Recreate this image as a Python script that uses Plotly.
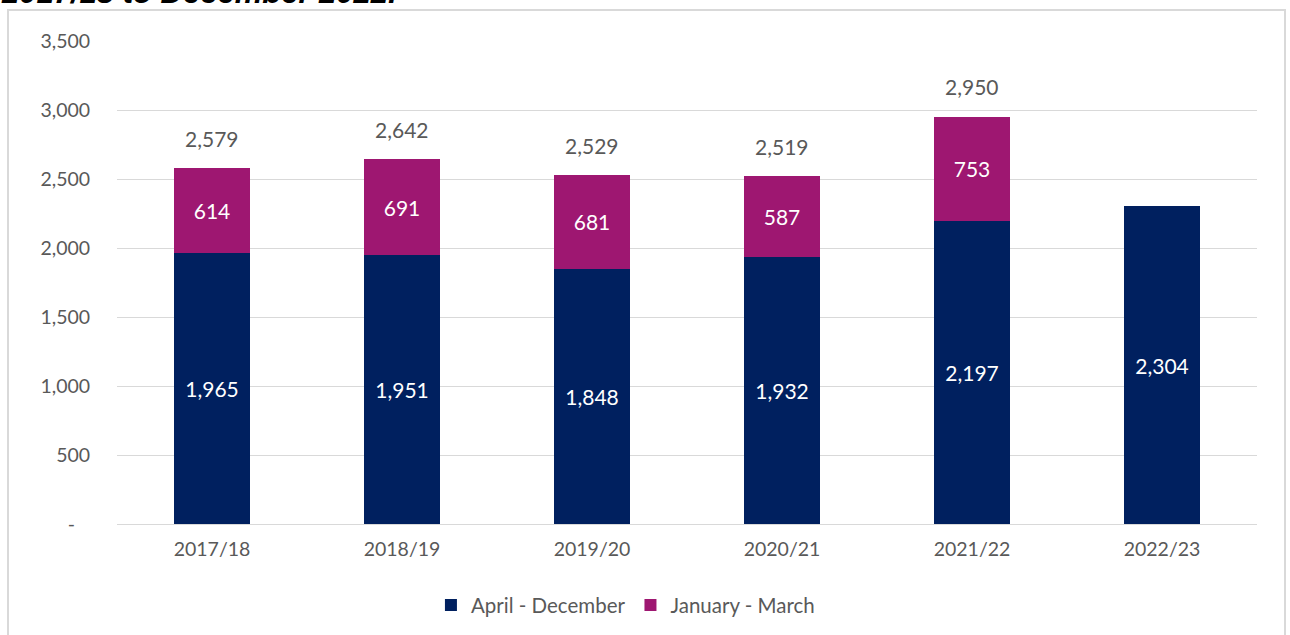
import plotly.graph_objects as go

years = ["2017/18", "2018/19", "2019/20", "2020/21", "2021/22", "2022/23"]
apr_dec = [1965, 1951, 1848, 1932, 2197, 2304]
jan_mar = [614, 691, 681, 587, 753, None]
totals = [2579, 2642, 2529, 2519, 2950, None]
y_ticks = [0, 500, 1000, 1500, 2000, 2500, 3000, 3500]
y_tick_text = ["-\u00a0\u00a0\u00a0", "500", "1,000", "1,500", "2,000", "2,500", "3,000", "3,500"]

NAVY = "#00205F"
MAGENTA = "#9E1771"
GRAY = "#595959"
FONT = "Lato"

fig = go.Figure()
fig.add_trace(go.Bar(
    x=years, y=apr_dec, name="April - December", marker_color=NAVY,
    text=[f"{v:,}" for v in apr_dec], textposition="inside", insidetextanchor="middle",
    textfont=dict(color="white", size=21, family=FONT), marker_line_width=0,
))
fig.add_trace(go.Bar(
    x=years, y=jan_mar, name="January - March", marker_color=MAGENTA,
    text=[f"{v:,}" if v is not None else "" for v in jan_mar], textposition="inside",
    insidetextanchor="middle",
    textfont=dict(color="white", size=21, family=FONT), marker_line_width=0,
))

annotations = []
for yr, t in zip(years, totals):
    if t is None:
        continue
    annotations.append(dict(x=yr, y=t, xref="x", yref="y", text=f"{t:,}", showarrow=False,
                            yshift=30, yanchor="middle",
                            font=dict(color=GRAY, size=21, family=FONT)))

annotations.append(dict(text="<b><i>2017/18 to December 2022.</i></b>", xref="paper", yref="paper",
                        x=(-1 - 117) / 1140, xanchor="left", y=(524 - 12) / 483, yanchor="bottom",
                        showarrow=False,
                        font=dict(family="Liberation Sans", size=31, color="black")))

fig.update_layout(
    barmode="stack", bargap=0.595,
    width=1290, height=635,
    margin=dict(l=117, r=33, t=41, b=111, autoexpand=False),
    paper_bgcolor="white", plot_bgcolor="white",
    font=dict(family=FONT, color=GRAY, size=19),
    legend=dict(orientation="h", x=0.446, xanchor="center", y=-0.168, yanchor="middle",
                font=dict(size=20.5, color=GRAY, family=FONT), traceorder="normal",
                itemwidth=30),
    xaxis=dict(showgrid=False, showline=False, ticks="outside", ticklen=8,
               tickcolor="rgba(0,0,0,0)", tickfont=dict(size=19.5, color=GRAY)),
    yaxis=dict(range=[0, 3500], tickvals=y_ticks, ticktext=y_tick_text,
               showgrid=True, gridcolor="#D9D9D9", gridwidth=1.3, zeroline=True,
               zerolinecolor="#D9D9D9", zerolinewidth=1.3, showline=False,
               ticks="outside", ticklen=22, tickcolor="rgba(0,0,0,0)",
               tickfont=dict(size=19.5, color=GRAY)),
    shapes=[dict(type="rect", xref="paper", yref="paper",
                 x0=(8 - 117) / 1140, x1=(1285 - 117) / 1140,
                 y0=(524 - 660) / 483, y1=(524 - 10) / 483,
                 line=dict(color="#D9D9D9", width=2), fillcolor="rgba(0,0,0,0)", layer="below")],
    annotations=annotations,
)

fig.write_html("out.html", post_script="document.body.style.margin='0px';",
               config={"displayModeBar": False})
